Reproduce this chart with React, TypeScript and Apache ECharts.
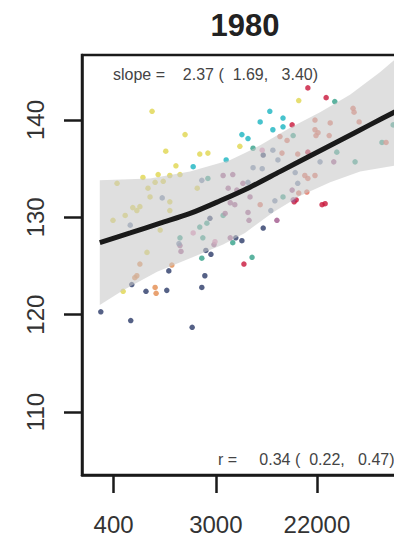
import React, { useEffect, useRef } from "react";
import * as echarts from "echarts";

// ---- data (x = natural log of GDP per capita, y = height in cm) ----
const titleText = "1980";
const slopeText = "slope =    2.37 (  1.69,   3.40)";
const rText = "r =     0.34 (  0.22,   0.47)";

const xTickLabels = [400, 3000, 22000];
const yTickLabels = [110, 120, 130, 140];

const yellowPts = [[6.75,140.9],[7.40,138.5],[7.02,136.8],[7.69,136.5],[7.85,136.6],[8.48,137.3],[7.22,135.3],[6.57,134.1],[6.87,134.4],[7.10,134.3],[7.30,134.4],[6.06,133.5],[6.81,133.6],[6.97,133.7],[6.67,133.0],[7.64,133.0],[6.71,132.1],[7.10,131.6],[6.37,131.0],[6.51,131.1],[7.10,130.7],[6.45,130.7],[5.98,129.7],[6.65,126.4],[6.18,122.4],[9.64,142.0],[6.22,130.2],[6.91,128.7]];
const cyanPts = [[8.52,138.5],[7.56,135.2],[9.07,140.9],[8.88,139.8],[9.33,140.2],[9.13,139.0],[9.33,139.3],[8.64,138.1],[8.21,135.9]];
const tealPts = [[8.74,137.1],[10.35,141.9],[10.39,136.7],[10.75,135.7],[11.28,137.7],[11.50,139.5],[9.53,138.4],[9.33,132.1],[7.30,127.9],[7.75,127.9],[7.73,125.8],[8.72,125.9],[8.34,127.4],[7.69,129.0],[7.83,129.4],[7.85,134.0],[8.15,130.2]];
const navyPts = [[5.74,120.3],[6.33,119.4],[7.54,118.7],[6.35,123.1],[6.63,122.4],[7.04,122.5],[7.08,124.5],[7.79,124.0],[7.73,122.8],[7.81,126.6],[7.91,126.2],[8.40,127.9],[8.52,127.6],[8.94,128.9],[7.89,129.9],[8.94,136.4]];
const orangePts = [[6.51,125.2],[7.14,125.1],[6.45,124.0],[6.41,123.8],[6.81,122.8],[6.83,122.2]];
const crimsonPts = [[9.82,143.3],[10.18,142.3],[9.51,139.5],[9.59,131.8],[9.55,131.6],[10.10,131.3],[10.16,131.4],[8.56,125.2],[9.82,136.7]];
const salmonPts = [[9.96,140.0],[10.26,139.7],[10.71,141.2],[10.73,140.8],[10.83,139.8],[9.27,138.3],[9.41,137.9],[9.96,139.0],[10.02,138.7],[9.98,138.4],[10.24,138.4],[11.36,137.7],[9.62,136.5],[9.76,134.3],[9.82,134.0],[9.96,134.3],[9.64,132.5],[9.31,136.6],[8.88,131.3],[9.80,132.6]];
const purplePts = [[8.15,134.3],[8.34,134.4],[8.25,133.0],[8.42,132.8],[8.54,133.5],[9.51,132.8],[9.53,131.8],[8.38,131.3],[8.68,132.1],[8.64,130.5],[8.66,129.7],[9.21,129.7],[8.19,130.4],[7.97,127.2],[7.32,126.5],[7.30,127.1],[8.29,131.5],[10.33,135.7],[8.29,127.9]];
const pinkPts = [[8.92,136.9],[7.56,128.4],[7.99,127.5]];
const greyBluePts = [[6.32,129.2],[7.28,127.3],[9.13,136.9],[9.23,135.9],[8.74,135.1],[8.92,135.0],[9.57,134.6],[9.62,133.5],[8.64,133.6],[7.73,133.8],[9.17,131.7],[9.09,130.7],[10.06,135.7],[8.62,133.0],[6.95,132.0]];

const loessLine = [[5.72,127.4],[6.32,128.4],[6.91,129.4],[7.50,130.4],[8.09,131.7],[8.68,133.1],[9.27,134.7],[9.86,136.3],[10.45,137.9],[11.04,139.5],[11.52,140.8],[11.71,141.3]];
const bandUpper = [[5.72,133.8],[6.71,134.0],[7.50,134.7],[8.29,135.9],[8.58,136.6],[8.88,137.4],[9.47,139.2],[10.06,140.8],[10.65,142.6],[11.24,144.9],[11.71,147.0]];
const bandLower = [[5.72,121.0],[6.18,122.5],[6.85,124.4],[7.50,125.8],[8.15,127.2],[8.58,128.4],[9.13,130.5],[9.66,132.2],[10.26,133.6],[10.85,134.7],[11.52,135.3],[11.71,135.5]];

const X_MIN = 5.3695;
const X_MAX = 11.714;
const Y_MIN = 103.53;
const Y_MAX = 146.68;

const groups: [number[][], string][] = [
  [yellowPts, "#e0d64e"],
  [cyanPts, "#19b4c0"],
  [tealPts, "#33a088"],
  [navyPts, "#2b3a68"],
  [orangePts, "#e38b4e"],
  [crimsonPts, "#c8153a"],
  [salmonPts, "#e2705e"],
  [purplePts, "#a0588c"],
  [pinkPts, "#e08ab4"],
  [greyBluePts, "#6f86a8"],
];

const FONT = "'Liberation Sans', Arial, sans-serif";
const INK = "#1a1a1a";

export default function App() {
  const ref = useRef<HTMLDivElement>(null);
  useEffect(() => {
    if (!ref.current) return;
    const chart = echarts.init(ref.current, null, { renderer: "svg" });
    const xTickValues = xTickLabels.map((v) => Math.log(v));
    const option: any = {
      animation: false,
      backgroundColor: "#ffffff",
      grid: {
        left: 82, top: 55, right: 16, bottom: 66,
        show: true, borderColor: INK, borderWidth: 2.5, backgroundColor: "transparent",
      },
      xAxis: {
        type: "value", min: X_MIN, max: X_MAX,
        axisLine: { show: true, onZero: false, lineStyle: { color: INK, width: 2.5 } },
        axisTick: { show: true, length: 18, customValues: xTickValues, lineStyle: { color: INK, width: 2.5 } },
        axisLabel: {
          customValues: xTickValues,
          formatter: (v: number) => {
            const i = xTickValues.findIndex((t) => Math.abs(t - v) < 1e-6);
            return i >= 0 ? String(xTickLabels[i]) : "";
          },
          fontSize: 24, color: "#333", margin: 37, fontFamily: FONT,
        },
        splitLine: { show: false },
      },
      yAxis: {
        type: "value", min: Y_MIN, max: Y_MAX,
        axisLine: { show: true, onZero: false, lineStyle: { color: INK, width: 2.5 } },
        axisTick: { show: true, length: 18, customValues: yTickLabels, lineStyle: { color: INK, width: 2.5 } },
        axisLabel: {
          customValues: yTickLabels, rotate: 90,
          fontSize: 24, color: "#333", margin: 35, fontFamily: FONT,
        },
        splitLine: { show: false },
      },
      series: [
        ...groups.map(([pts, color]) => ({
          type: "scatter", data: pts, symbol: "circle", symbolSize: 5.5,
          itemStyle: { color }, z: 2, silent: true,
        })),
        {
          type: "custom", z: 3, silent: true,
          data: [bandUpper[0]],
          renderItem: (params: any, api: any) => {
            const pts = [...bandUpper, ...bandLower.slice().reverse()].map((p) => api.coord(p));
            const cs = params.coordSys;
            return {
              type: "group",
              clipPath: { type: "rect", shape: { x: cs.x, y: cs.y, width: cs.width, height: cs.height } },
              children: [
                { type: "polygon", shape: { points: pts }, style: { fill: "rgba(200,200,200,0.58)" } },
              ],
            };
          },
        },
        {
          type: "line", data: loessLine, smooth: 0.3, showSymbol: false, z: 4, silent: true,
          lineStyle: { color: INK, width: 5 },
        },
      ],
      graphic: [
        { type: "text", x: 245, y: 25, style: { text: titleText, font: `bold 31px ${FONT}`, fill: "#222", align: "center", verticalAlign: "middle" } },
        { type: "text", x: 113, y: 74, style: { text: slopeText, font: `16px ${FONT}`, fill: "#444", align: "left", verticalAlign: "middle" } },
        { type: "text", x: 218, y: 459, style: { text: rText, font: `16px ${FONT}`, fill: "#444", align: "left", verticalAlign: "middle" } },
      ],
    };
    chart.setOption(option);
    return () => chart.dispose();
  }, []);
  return (
    <div style={{ position: "fixed", left: 0, top: 0, width: 394, height: 541, overflow: "hidden", background: "#fff" }}>
      <div ref={ref} style={{ width: 420, height: 541 }} />
    </div>
  );
}
